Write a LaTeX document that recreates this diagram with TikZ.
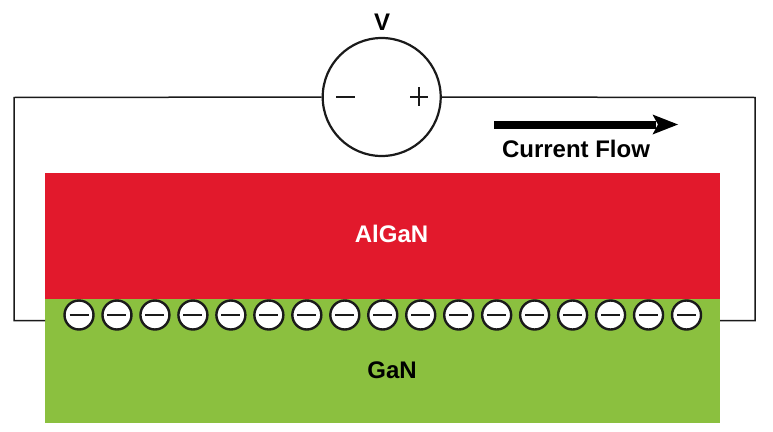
\documentclass[tikz,border=0pt]{standalone}
\usepackage{fontspec}
\setmainfont{Liberation Sans}
\definecolor{algan}{HTML}{E2192C}
\definecolor{gan}{HTML}{8BC03F}
\definecolor{ink}{HTML}{1A1A1A}
\tikzset{
  layer/.style={draw=none,minimum width=675pt,inner sep=0pt,outer sep=0pt},
  wire/.style={draw=ink,line width=1.5pt},
  label/.style={font=\fontsize{24}{27}\selectfont\bfseries,inner sep=0pt},
  electron/.style={circle,draw=ink,line width=2.4pt,fill=white,minimum size=29pt,inner sep=0pt},
  source/.style={circle,draw=ink,line width=2.2pt,fill=white,minimum size=118pt,inner sep=0pt},
  sign/.style={draw=ink,line width=1.1pt},
}
\begin{document}
\begin{tikzpicture}[x=1pt,y=-1pt]
\useasboundingbox (0,0) rectangle (773,431);
\coordinate (tl) at (14,97.5);
\coordinate (bl) at (14,320.5);
\coordinate (tr) at (755,97.5);
\coordinate (br) at (755,320.5);
\node[layer,fill=algan,minimum height=126pt] (red) at (382.5,236) {};
\node[layer,fill=gan,minimum height=124pt] (green) at (382.5,361) {};
\node[source] (v) at (381.7,97) {};
\draw[wire] (v.west) -- (tl) -- (bl) -- (bl-|red.west);
\draw[wire] (v.east) -- (tr) -- (br) -- (br-|red.east);
\node[label] (vlab) at (382,22) {V};
\node[label,text=white] (al) at (391.5,234) {AlGaN};
\node[label] (ga) at (392,370) {GaN};
\node[label] (cf) at (576,149) {Current Flow};
\coordinate (minusa) at (336,97);
\coordinate (minusb) at (355,97);
\coordinate (plusa) at (410,97);
\coordinate (plusb) at (428,97);
\coordinate (plusc) at (419,87);
\coordinate (plusd) at (419,106);
\draw[sign] (minusa) -- (minusb);
\draw[sign] (plusa) -- (plusb);
\draw[sign] (plusc) -- (plusd);
\coordinate (flowa) at (494,124.5);
\coordinate (flowb) at (656,124.5);
\coordinate (flowtip) at (678,124.5);
\draw[draw=black,line width=8pt] (flowa) -- (flowb);
\fill[black] (flowtip) -- (652.5,114.5) -- (658,124.5) -- (652.5,134.5) -- cycle;
\foreach \i in {0,...,16}{
  \pgfmathsetmacro{\cx}{79+37.97*\i}
  \node[electron] (e\i) at (\cx,315) {};
  \draw[draw=ink,line width=1.2pt] ([xshift=-9.5pt]e\i.center) -- ([xshift=9.5pt]e\i.center);
}
\end{tikzpicture}
\end{document}
